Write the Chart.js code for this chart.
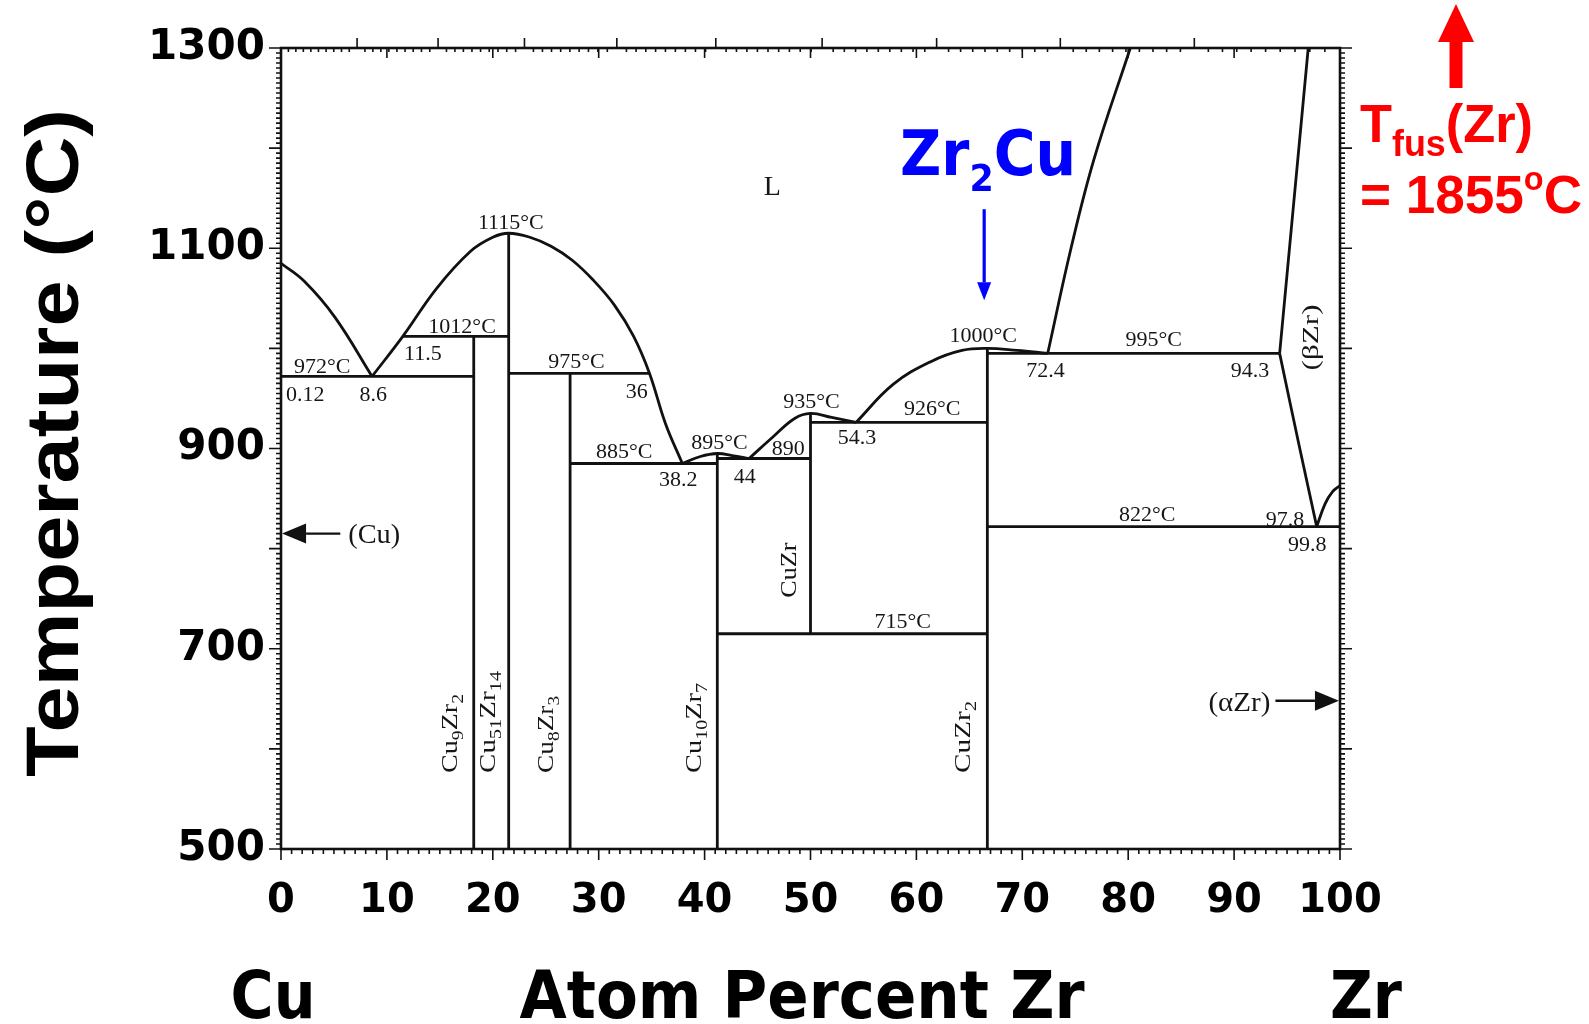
<!DOCTYPE html>
<html>
<head>
<meta charset="utf-8">
<script src="https://cdn.jsdelivr.net/npm/chart.js@4.4.1/dist/chart.umd.min.js"></script>
<style>
  html, body { margin: 0; padding: 0; background: #fff; }
  #wrap { width: 1589px; height: 1024px; }
</style>
</head>
<body>
<div id="wrap"><canvas id="chart1"></canvas></div>
<script>
// axis ticks
const xTicks = [0, 10, 20, 30, 40, 50, 60, 70, 80, 90, 100];
const yTicks = [500, 700, 900, 1100, 1300];

// phase boundaries, [at.% Zr, T (°C)]
const cuLiquidus = [[0, 1085], [2.2, 1067], [5.1, 1031], [8.6, 972]];
const cu51Zr14Liquidus = [[8.6, 972], [11.5, 1012], [14.7, 1060], [17.9, 1097], [20, 1111], [21.5, 1115], [23.5, 1111], [25.5, 1102], [27.5, 1088], [29.5, 1068], [31.5, 1043], [33.3, 1012], [34.8, 975], [36.3, 925], [37.9, 885]];
const cu10Zr7Liquidus = [[37.9, 885], [39.6, 892], [41.2, 895], [42.6, 893], [44.2, 890]];
const cuZrLiquidus = [[44.2, 890], [46.5, 912], [48.5, 930], [50, 935], [52, 931], [54.3, 926]];
const cuZr2Liquidus = [[54.3, 926], [57.8, 964], [61.4, 987], [64.3, 998], [66.7, 1000], [69.5, 998], [72.4, 995]];
const betaZrLiquidus = [[72.4, 995], [74.6, 1100], [76.8, 1190], [80.2, 1300]];
const betaZrSolidus = [[94.3, 995], [97.0, 1300]];
const betaZrSolvus = [[94.3, 995], [96.1, 905], [97.8, 822]];
const betaZrTransus = [[97.8, 822], [98.6, 845], [99.3, 857], [100, 863]];

// invariant lines [x from, x to, T]
const isotherms = [[0, 18.2, 972], [11.5, 21.5, 1012], [21.5, 34.8, 975], [27.3, 41.2, 885], [41.2, 50, 890], [50, 66.7, 926], [66.7, 94.3, 995], [66.7, 100, 822], [41.2, 66.7, 715]];

// compounds [x, T bottom, T top]
const compounds = [[18.2, 500, 1012], [21.5, 500, 1115], [27.3, 500, 975], [41.2, 500, 895], [50, 715, 935], [66.7, 500, 1000]];

// labels on the diagram [text, x, T]
const tempLabels = [
  ['972°C', 3.9, 983], ['0.12', 2.3, 955], ['8.6', 8.7, 955], ['11.5', 13.4, 996],
  ['1012°C', 17.1, 1023], ['1115°C', 21.7, 1127], ['975°C', 27.9, 988], ['36', 33.6, 958],
  ['885°C', 32.4, 898], ['38.2', 37.5, 870], ['895°C', 41.4, 907], ['890', 47.9, 901],
  ['44', 43.8, 873], ['935°C', 50.1, 948], ['54.3', 54.4, 912], ['926°C', 61.5, 941],
  ['1000°C', 66.3, 1014], ['72.4', 72.2, 979], ['995°C', 82.4, 1010], ['94.3', 91.5, 979],
  ['822°C', 81.8, 836], ['97.8', 94.8, 831], ['99.8', 96.9, 806], ['715°C', 58.7, 729]
];
// vertical labels [text, x, T at start of text, length in px]
const phaseLabels = [
  ['CuZr', 47.8, 751, 55], ['Cu_{9}Zr_{2}', 15.8, 576, 79], ['Cu_{51}Zr_{14}', 19.4, 576, 102],
  ['Cu_{8}Zr_{3}', 24.9, 576, 77], ['Cu_{10}Zr_{7}', 38.8, 576, 90], ['CuZr_{2}', 64.2, 576, 72], ['(βZr)', 97.1, 978, 66]
];

const curves = [cuLiquidus, cu51Zr14Liquidus, cu10Zr7Liquidus, cuZrLiquidus, cuZr2Liquidus, betaZrLiquidus, betaZrSolidus, betaZrSolvus, betaZrTransus];

const toXY = (pts) => pts.map(p => ({ x: p[0], y: p[1] }));
const datasets = [];
curves.forEach(c => datasets.push({ data: toXY(c), tension: 0.4 }));
isotherms.forEach(h => datasets.push({ data: toXY([[h[0], h[2]], [h[1], h[2]]]) }));
compounds.forEach(v => datasets.push({ data: toXY([[v[0], v[1]], [v[0], v[2]]]) }));
datasets.forEach(d => Object.assign(d, { showLine: true, borderColor: '#111', borderWidth: 2.8, pointRadius: 0, fill: false }));

function parseRich(str) {
  const parts = [];
  const re = /_\{([^}]*)\}|\^\{([^}]*)\}|([^_^]+)/g;
  let m;
  while ((m = re.exec(str))) {
    if (m[1] !== undefined) parts.push({ t: m[1], k: 'sub' });
    else if (m[2] !== undefined) parts.push({ t: m[2], k: 'sup' });
    else parts.push({ t: m[3], k: 'n' });
  }
  return parts;
}

function drawRich(ctx, str, x, y, o) {
  const parts = parseRich(str);
  const fontOf = (k) => (o.weight || 'normal') + ' ' + (k === 'n' ? o.size : Math.round(o.size * (o.subScale || 0.68))) + 'px ' + o.family;
  let total = 0;
  parts.forEach(p => { ctx.font = fontOf(p.k); p.w = ctx.measureText(p.t).width; total += p.w; });
  const sx = o.width ? o.width / total : 1;
  ctx.save();
  ctx.translate(x, y);
  if (o.rot) ctx.rotate(o.rot);
  ctx.scale(sx, o.sy || 1);
  ctx.fillStyle = o.color || '#161616';
  ctx.textBaseline = 'alphabetic';
  ctx.textAlign = 'left';
  let cx = o.align === 'left' ? 0 : -total / 2;
  const base = o.middle ? o.size * 0.36 : 0;
  parts.forEach(p => {
    ctx.font = fontOf(p.k);
    const dy = p.k === 'sub' ? o.size * 0.25 : p.k === 'sup' ? -o.size * 0.43 : 0;
    ctx.fillText(p.t, cx, base + dy);
    cx += p.w;
  });
  ctx.restore();
}

function arrow(ctx, x1, y1, x2, y2, head, half, lw, color) {
  const ang = Math.atan2(y2 - y1, x2 - x1);
  const bx = x2 - head * Math.cos(ang), by = y2 - head * Math.sin(ang);
  ctx.save();
  ctx.strokeStyle = color; ctx.fillStyle = color; ctx.lineWidth = lw;
  ctx.beginPath(); ctx.moveTo(x1, y1); ctx.lineTo(bx, by); ctx.stroke();
  ctx.beginPath();
  ctx.moveTo(x2, y2);
  ctx.lineTo(bx + half * Math.sin(ang), by - half * Math.cos(ang));
  ctx.lineTo(bx - half * Math.sin(ang), by + half * Math.cos(ang));
  ctx.closePath(); ctx.fill();
  ctx.restore();
}

// weight % Zr -> atom % Zr (top axis of the original diagram)
const wtToAt = (w) => 100 * (w / 91.224) / (w / 91.224 + (100 - w) / 63.546);

const decorations = {
  id: 'decorations',
  afterDatasetsDraw(chart) {
    const { ctx, chartArea: a, scales: { x, y } } = chart;
    ctx.save();
    // frame
    ctx.strokeStyle = '#111';
    ctx.lineWidth = 2.6;
    ctx.strokeRect(a.left, a.top, a.width, a.height);
    ctx.lineWidth = 1.6;
    ctx.beginPath();
    for (let t = 500; t <= 1300; t += 5) {
      const py = y.getPixelForValue(t);
      const len = t % 100 === 0 ? 12 : 5;
      ctx.moveTo(a.left, py); ctx.lineTo(a.left - len, py);
      ctx.moveTo(a.right, py); ctx.lineTo(a.right + len, py);
    }
    for (let v = 0; v <= 100; v += 1) {
      const px = x.getPixelForValue(v);
      const len = v % 10 === 0 ? 11 : 5;
      ctx.moveTo(px, a.bottom); ctx.lineTo(px, a.bottom + len);
      if (v % 10 === 0) { ctx.moveTo(px, a.top); ctx.lineTo(px, a.top + 10); }
    }
    for (let w = 1; w < 100; w += 1) {
      const px = x.getPixelForValue(wtToAt(w));
      if (w % 10 === 0) { ctx.moveTo(px, a.top); ctx.lineTo(px, a.top - 10); }
      else { ctx.moveTo(px, a.top); ctx.lineTo(px, a.top + 4); }
    }
    ctx.stroke();

    // diagram labels
    const serif = '"Liberation Serif", serif';
    tempLabels.forEach(l => drawRich(ctx, l[0], x.getPixelForValue(l[1]), y.getPixelForValue(l[2]),
      { size: 22, family: serif, middle: true }));
    phaseLabels.forEach(l => drawRich(ctx, l[0], x.getPixelForValue(l[1]), y.getPixelForValue(l[2]),
      { size: 24, family: serif, middle: true, align: 'left', rot: -Math.PI / 2, subScale: 0.72, width: l[3] }));
    drawRich(ctx, 'L', x.getPixelForValue(46.4), y.getPixelForValue(1163), { size: 28, family: serif, middle: true });
    drawRich(ctx, '(Cu)', x.getPixelForValue(8.8), y.getPixelForValue(815), { size: 27, family: serif, middle: true, width: 52 });
    drawRich(ctx, '(αZr)', x.getPixelForValue(90.5), y.getPixelForValue(648), { size: 27, family: serif, middle: true, width: 62 });

    // (Cu) and (αZr) arrows
    arrow(ctx, x.getPixelForValue(5.6), y.getPixelForValue(815), x.getPixelForValue(0.1), y.getPixelForValue(815), 24, 10, 2.4, '#111');
    arrow(ctx, x.getPixelForValue(93.9), y.getPixelForValue(648), x.getPixelForValue(99.9), y.getPixelForValue(648), 24, 10, 2.4, '#111');

    // Zr2Cu callout
    drawRich(ctx, 'Zr_{2}Cu', 900, 175, { size: 62, family: '"DejaVu Sans", sans-serif', weight: 'bold', color: '#0000ff', align: 'left', width: 176, subScale: 0.62 });
    arrow(ctx, x.getPixelForValue(66.4), y.getPixelForValue(1139), x.getPixelForValue(66.4), y.getPixelForValue(1048), 18, 7, 3.2, '#0000ff');

    // melting point of Zr, off the scale
    arrow(ctx, 1456, 88, 1456, 4, 38, 18, 13, '#ff0000');
    drawRich(ctx, 'T_{fus}(Zr)', 1360, 142, { size: 54, family: '"Liberation Sans", Arial, sans-serif', weight: 'bold', color: '#ff0000', align: 'left', width: 173, subScale: 0.68 });
    drawRich(ctx, '= 1855^{o}C', 1360, 213, { size: 54, family: '"Liberation Sans", Arial, sans-serif', weight: 'bold', color: '#ff0000', align: 'left', width: 222, subScale: 0.62 });

    // axis titles
    drawRich(ctx, 'Temperature (°C)', 51, 443, { size: 74, family: '"Liberation Sans", Arial, sans-serif', weight: 'bold', color: '#000', middle: true, rot: -Math.PI / 2, width: 668 });
    const bold = { size: 66, family: '"DejaVu Sans", sans-serif', weight: 'bold', color: '#000' };
    drawRich(ctx, 'Cu', 273, 1018, Object.assign({}, bold, { width: 85 }));
    drawRich(ctx, 'Atom Percent Zr', 802, 1018, Object.assign({}, bold, { width: 565 }));
    drawRich(ctx, 'Zr', 1366, 1018, Object.assign({}, bold, { width: 72 }));
    ctx.restore();
  }
};

const ctx = document.getElementById('chart1');
new Chart(ctx, {
  type: 'scatter',
  data: { datasets: datasets },
  options: {
    responsive: true,
    maintainAspectRatio: false,
    animation: false,
    layout: { padding: { left: 0, top: 48, right: 249, bottom: 0 } },
    plugins: { legend: { display: false }, tooltip: { enabled: false } },
    scales: {
      x: {
        type: 'linear', min: 0, max: 100,
        afterBuildTicks: (s) => { s.ticks = xTicks.map(v => ({ value: v })); },
        afterFit: (s) => { s.height = 175; },
        ticks: { color: '#000', padding: 29, callback: (v) => String(v), font: { family: '"DejaVu Sans", sans-serif', weight: 'bold', size: 40 } },
        grid: { drawOnChartArea: false, drawTicks: false },
        border: { display: false }
      },
      y: {
        type: 'linear', min: 500, max: 1300,
        afterBuildTicks: (s) => { s.ticks = yTicks.map(v => ({ value: v })); },
        afterFit: (s) => { s.width = 281; },
        ticks: { color: '#000', padding: 16, callback: (v) => String(v), font: { family: '"DejaVu Sans", sans-serif', weight: 'bold', size: 42 } },
        grid: { drawOnChartArea: false, drawTicks: false },
        border: { display: false }
      }
    }
  },
  plugins: [decorations]
});
</script>
</body>
</html>
